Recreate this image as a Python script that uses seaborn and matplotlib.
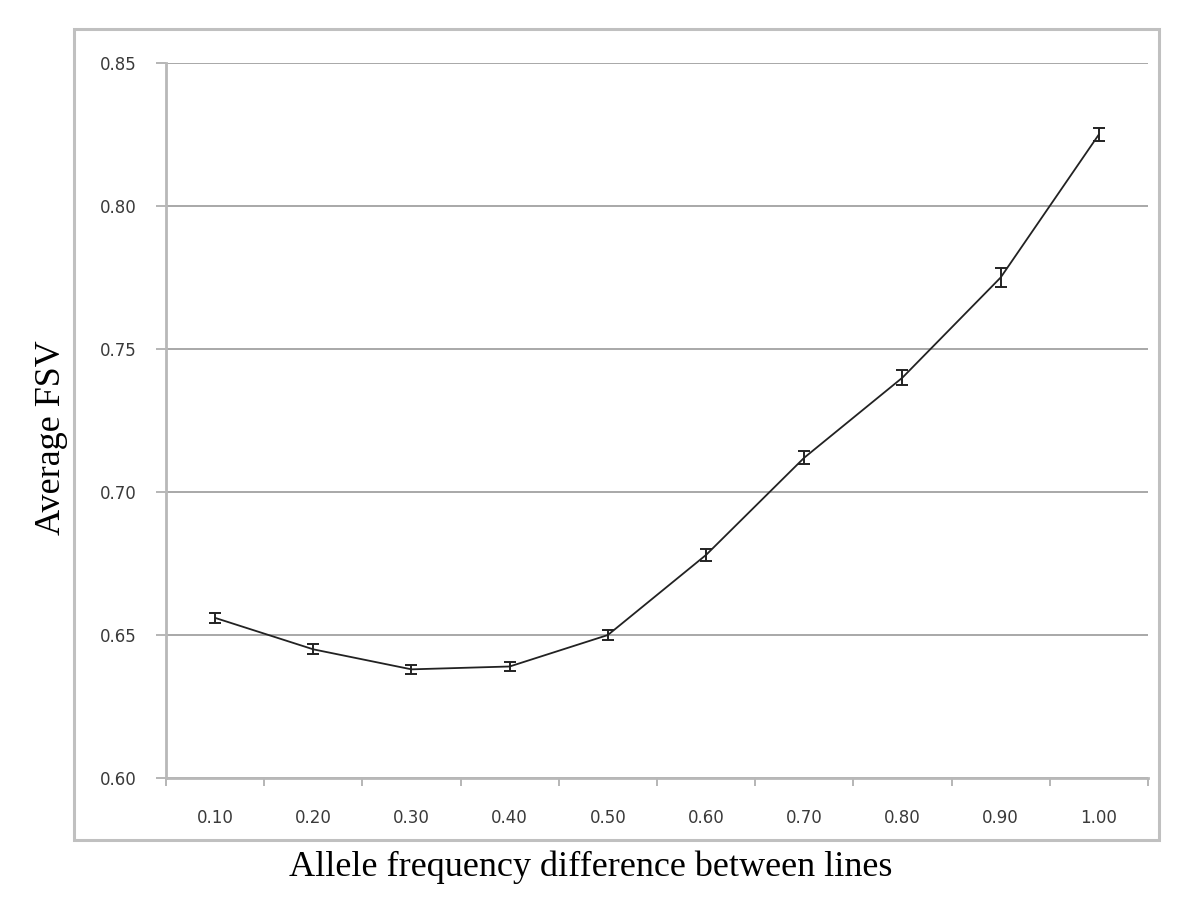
import numpy as np
import pandas as pd
import matplotlib
matplotlib.use("Agg")
import matplotlib.pyplot as plt
import seaborn as sns
from matplotlib.patches import Rectangle
from matplotlib.ticker import FixedLocator, FixedFormatter, NullFormatter

# data
freq_labels = ["0.10", "0.20", "0.30", "0.40", "0.50",
               "0.60", "0.70", "0.80", "0.90", "1.00"]
avg_fsv = [0.656, 0.645, 0.638, 0.639, 0.650,
           0.678, 0.712, 0.740, 0.775, 0.825]
fsv_err = [0.0018, 0.0018, 0.0016, 0.0016, 0.0018,
           0.0020, 0.0023, 0.0025, 0.0032, 0.0022]
y_ticks = [0.60, 0.65, 0.70, 0.75, 0.80, 0.85]

sns.set_style("white")
plt.rcParams["font.family"] = ["DejaVu Sans"]

df = pd.DataFrame({
    "pos": np.arange(len(freq_labels)),
    "fsv": avg_fsv,
    "err": fsv_err,
})

fig = plt.figure(figsize=(12, 9.15), dpi=100)
ax = fig.add_axes([0.1383, 0.1497, 0.8183, 0.7814])

# outer chart frame (spreadsheet style)
fig.patches.append(Rectangle((0.0617, 0.0820), 0.904, 0.8863,
                             transform=fig.transFigure, fill=False,
                             edgecolor="#c0c0c0", linewidth=2.2, zorder=0))

sns.lineplot(data=df, x="pos", y="fsv", color="#222222", linewidth=1.3, ax=ax)
ax.errorbar(df["pos"], df["fsv"], yerr=df["err"], fmt="none",
            ecolor="#222222", elinewidth=1.4, capsize=4, capthick=1.4)

ax.set_xlim(-0.5, len(freq_labels) - 0.5)
ax.set_ylim(y_ticks[0], y_ticks[-1])

# category ticks sit between the points, labels under the points
n = len(freq_labels)
ax.xaxis.set_major_locator(FixedLocator(np.arange(n + 1) - 0.5))
ax.xaxis.set_major_formatter(NullFormatter())
ax.xaxis.set_minor_locator(FixedLocator(np.arange(n)))
ax.xaxis.set_minor_formatter(FixedFormatter(freq_labels))
ax.tick_params(axis="x", which="major", bottom=True, length=6, width=1.3,
               color="#b0b0b0", direction="out")
ax.tick_params(axis="x", which="minor", bottom=True, length=0, pad=22,
               labelsize=12, labelcolor="#3a3a3a")

ax.set_yticks(y_ticks)
ax.set_yticklabels([f"{v:.2f}" for v in y_ticks])
ax.tick_params(axis="y", left=True, length=7, width=1.3, color="#b0b0b0",
               direction="out", labelsize=12, labelcolor="#3a3a3a", pad=14)

ax.yaxis.grid(True, color="#a8a8a8", linewidth=1.4)
ax.set_axisbelow(True)

for side in ["top", "right"]:
    ax.spines[side].set_visible(False)
for side in ["left", "bottom"]:
    ax.spines[side].set_color("#b8b8b8")
    ax.spines[side].set_linewidth(2.0)

ax.set_xlabel("")
ax.set_ylabel("")
fig.text(0.0433, 0.522, "Average FSV", rotation=90, ha="center", va="center",
         fontsize=26, family="Liberation Serif", color="black")
fig.text(0.492, 0.0525, "Allele frequency difference between lines",
         ha="center", va="center", fontsize=26, family="Liberation Serif",
         color="black")

plt.savefig("out.png", dpi=100)
